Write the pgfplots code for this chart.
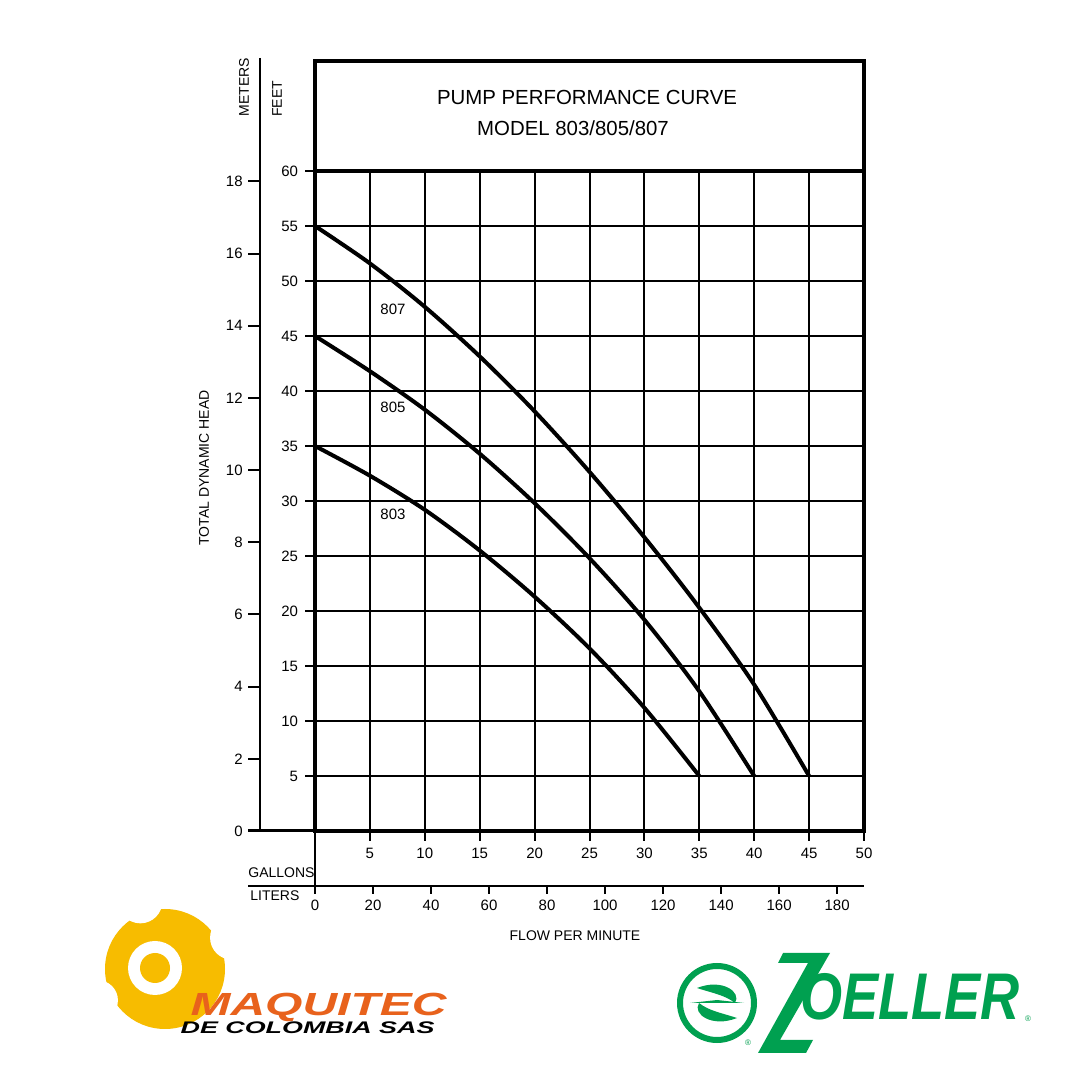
\documentclass[border=0pt]{standalone}
\usepackage{pgfplots}
\pgfplotsset{compat=1.18}
\usepackage{fontspec}
\setmainfont{Liberation Sans}
\definecolor{maqY}{HTML}{F7BC00}
\definecolor{maqO}{HTML}{E8621C}
\definecolor{zgreen}{HTML}{00A050}
\begin{document}
\begin{tikzpicture}
\path[use as bounding box] (0,0) rectangle (540pt,540pt);
\fill[white] (0,0) rectangle (540pt,540pt);
\begin{axis}[
  at={(157.5pt,124.5pt)}, anchor=south west, scale only axis,
  width=274.5pt, height=330pt,
  xmin=0, xmax=50, ymin=0, ymax=60,
  axis line style={line width=2pt},
  xtick={5,10,...,50}, ytick={5,10,...,60},
  grid=major, grid style={line width=1pt,black},
  tick style={line width=1pt,black},
  tick align=outside, major tick length=5pt,
  ticklabel style={font=\fontsize{7.5}{9}\selectfont},
  /pgf/number format/assume math mode=true,
  xtick pos=bottom, ytick pos=left,
  clip=false,
]
% 807
\addplot[line width=2pt, smooth] coordinates {
 (0,55) (5,51.6) (10,47.65) (15,43.15) (20,38.15) (25,32.65) (30,26.7) (35,20.3) (40,13.3) (45,5)};
% 805
\addplot[line width=2pt, smooth] coordinates {
 (0,45) (5,41.8) (10,38.3) (15,34.3) (20,29.8) (25,24.8) (30,19.2) (35,12.7) (40,5)};
% 803
\addplot[line width=2pt, smooth] coordinates {
 (0,35) (5,32.3) (10,29.2) (15,25.5) (20,21.3) (25,16.6) (30,11.2) (35,5)};
\node[font=\fontsize{7.5}{9}\selectfont] at (axis cs:7.1,47.4) {807};
\node[font=\fontsize{7.5}{9}\selectfont] at (axis cs:7.1,38.5) {805};
\node[font=\fontsize{7.5}{9}\selectfont] at (axis cs:7.1,28.8) {803};
\end{axis}
\begin{scope}[x=0.5pt,y=-0.5pt,yshift=540pt]
  % title box
  \draw[line width=2pt, line join=miter] (315,171) -- (315,61) -- (864,61) -- (864,171);
  \node[font=\fontsize{10.2}{12}\selectfont] at (587,97) {PUMP PERFORMANCE CURVE};
  \node[font=\fontsize{10.2}{12}\selectfont] at (573,128) {MODEL 803/805/807};
  % meters axis
  \draw[line width=1pt] (260,58) -- (260,831);
  \draw[line width=1.5pt] (248,831) -- (315,831);
  \foreach \m in {0,2,...,18} {
    \draw[line width=1pt] (248,{831-\m*36.089}) -- (260,{831-\m*36.089});
    \node[anchor=east, inner sep=0pt, font=\fontsize{7.5}{9}\selectfont] at (243,{831-\m*36.089}) {\m};
  }
  \node[rotate=90, font=\fontsize{7}{8}\selectfont] at (244,87) {METERS};
  \node[rotate=90, font=\fontsize{7}{8}\selectfont] at (277,99) {FEET};
  \node[rotate=90, font=\fontsize{7}{8}\selectfont] at (204,468) {TOTAL DYNAMIC HEAD};
  % gallons / liters
  \draw[line width=1pt] (315,831) -- (315,886);
  \draw[line width=1pt] (248,886) -- (864,886);
  \foreach \L in {0,20,...,180} {
    \draw[line width=1pt] ({315+\L*2.9006},886) -- ({315+\L*2.9006},894);
    \node[font=\fontsize{7.5}{9}\selectfont] at ({315+\L*2.9006},905) {\L};
  }
  \node[anchor=west, inner sep=0pt, font=\fontsize{7}{8}\selectfont] at (248,873) {GALLONS};
  \node[anchor=west, inner sep=0pt, font=\fontsize{7}{8}\selectfont] at (250,896) {LITERS};
  \node[font=\fontsize{7}{8}\selectfont] at (575,936) {FLOW PER MINUTE};
  % Maquitec logo
  \fill[maqY] (165,969) circle (60);
  \fill[white] ({165+72*cos(110)},{969-72*sin(110)}) circle (22);
  \fill[white] ({165+74*cos(25)},{969-74*sin(25)}) circle (22);
  \fill[white] ({165+74*cos(205)},{969-74*sin(205)}) circle (20);
  \fill[white] (155,968) circle (27);
  \fill[maqY] (155,968) circle (15);
  \node[anchor=west, inner sep=0pt, text=maqO, xscale=1.5,
        font=\fontsize{16}{18}\selectfont\bfseries\itshape] at (190,1007) {MAQUITEC};
  \node[anchor=west, inner sep=0pt, text=black, xscale=1.6,
        font=\fontsize{8.4}{10}\selectfont\bfseries\itshape] at (180,1028) {DE COLOMBIA SAS};
  % Zoeller logo
  \draw[zgreen, line width=3pt] (717,1003) circle (37);
  \fill[zgreen] (697,988) .. controls (722,978) and (742,992) .. (735,1003)
        .. controls (725,995) and (712,993) .. (697,988) -- cycle;
  \fill[zgreen] (737,1018) .. controls (712,1028) and (692,1014) .. (699,1003)
        .. controls (709,1011) and (722,1013) .. (737,1018) -- cycle;
  \fill[zgreen] (690,1003) -- (744,1003) -- (717,1000) -- cycle;
  \node[text=zgreen, font=\fontsize{4}{5}\selectfont] at (748,1043) {\textregistered};
  \fill[zgreen] (783,953) -- (830,953) -- (780,1040) -- (813,1040) -- (806,1053)
        -- (758,1053) -- (808,963) -- (778,963) -- cycle;
  \node[anchor=west, inner sep=0pt, text=zgreen, xscale=0.82,
        font=\fontsize{33}{36}\selectfont\bfseries\itshape] at (800,997) {OELLER};
  \node[text=zgreen, font=\fontsize{4}{5}\selectfont] at (1028,1019) {\textregistered};
\end{scope}
\end{tikzpicture}
\end{document}
